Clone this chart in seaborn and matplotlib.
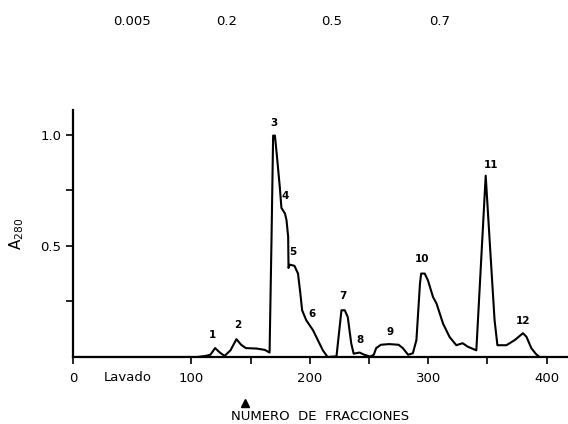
import matplotlib
matplotlib.use("Agg")
import matplotlib.pyplot as plt
import seaborn as sns
import pandas as pd

# Fraction number and absorbance
fraction = [0, 105, 112, 116, 120, 124, 128, 133, 138, 142, 146, 155, 162, 166,
            167.7, 169, 170.5, 172, 174.7, 176, 179, 180.3, 181.7, 182, 183, 187, 190,
            192, 193.5, 197, 202.7, 211, 215, 222.5, 226.7, 229.5, 232, 235, 237,
            242, 246, 251, 254, 256, 260, 267, 275, 278.5, 283, 287, 290, 293, 294,
            297, 299.7, 304, 307, 312.5, 318, 323.7, 329, 333.5, 340.6, 348.5, 352,
            356, 358.4, 366, 373, 380, 383, 387, 391, 394, 400]
a280 = [0, 0, 0.005, 0.01, 0.04, 0.02, 0.005, 0.03, 0.08, 0.055, 0.04, 0.038, 0.032, 0.02,
        0.55, 0.995, 0.995, 0.915, 0.76, 0.67, 0.645, 0.615, 0.54, 0.40, 0.415, 0.41, 0.375,
        0.285, 0.21, 0.165, 0.12, 0.03, 0.0, 0.003, 0.21, 0.21, 0.18, 0.06, 0.015,
        0.02, 0.01, 0.002, 0.01, 0.04, 0.055, 0.058, 0.055, 0.04, 0.01, 0.017, 0.076, 0.33, 0.375,
        0.375, 0.345, 0.27, 0.24, 0.15, 0.09, 0.053, 0.062, 0.046, 0.03, 0.815, 0.51,
        0.165, 0.053, 0.053, 0.076, 0.107, 0.09, 0.04, 0.013, 0.0, 0.0]

peak_labels = ["1", "2", "3", "4", "5", "6", "7", "8", "9", "10", "11", "12"]
peak_x = [118, 139, 170, 179, 186, 202, 228, 242, 267.5, 294.5, 353, 380]
peak_y = [0.076, 0.12, 1.03, 0.70, 0.45, 0.17, 0.25, 0.055, 0.09, 0.42, 0.84, 0.14]

gradient_labels = ["0.005", "0.2", "0.5", "0.7"]
gradient_x = [50, 130, 218, 310]

xtick_vals = [0, 100, 200, 300, 400]
xminor_vals = [150, 250, 350]
ytick_vals = [0.25, 0.5, 0.75, 1.0]
ytick_labels = ["", "0.5", "", "1.0"]

sns.set_style("ticks")
plt.rcParams['font.family'] = ['DejaVu Sans']
plt.rcParams['text.color'] = 'black'
plt.rcParams['axes.labelcolor'] = 'black'

fig = plt.figure(figsize=(5.68, 4.24), dpi=100)
ax = fig.add_axes([0.1285, 0.158, 0.8715, 0.5825])

df = pd.DataFrame({"x": fraction, "y": a280})
sns.lineplot(data=df, x="x", y="y", ax=ax, color="black", linewidth=1.5,
             estimator=None, sort=False)

ax.set_xlim(0, 418)
ax.set_ylim(0, 1.11)
sns.despine(ax=ax)
for s in ["left", "bottom"]:
    ax.spines[s].set_linewidth(1.6)
    ax.spines[s].set_color("black")

ax.set_xticks(xtick_vals)
ax.set_xticklabels([str(v) for v in xtick_vals], fontsize=9.5)
ax.set_xticks(xminor_vals, minor=True)
ax.set_yticks(ytick_vals)
ax.set_yticklabels(ytick_labels, fontsize=9.5)
ax.tick_params(axis="both", which="both", direction="out", length=5, width=1.2,
               color="black", labelcolor="black")
ax.tick_params(axis="x", pad=6)

ax.set_xlabel("NUMERO  DE  FRACCIONES", fontsize=9.5, labelpad=18)
ax.set_ylabel("A$_{\\mathregular{280}}$", fontsize=11, labelpad=10)

for lab, x, y in zip(peak_labels, peak_x, peak_y):
    ax.text(x, y, lab, fontsize=7.5, ha="center", va="bottom", fontweight="bold")

for lab, x in zip(gradient_labels, gradient_x):
    ax.text(x, 1.51, lab, fontsize=9.5, ha="center", va="center", clip_on=False)

ax.text(46, -0.09, "Lavado", fontsize=9.5, ha="center", va="center", clip_on=False)
ax.plot([145], [-0.205], marker="^", color="black", markersize=6, clip_on=False)

fig.savefig("out.png", dpi=100)
